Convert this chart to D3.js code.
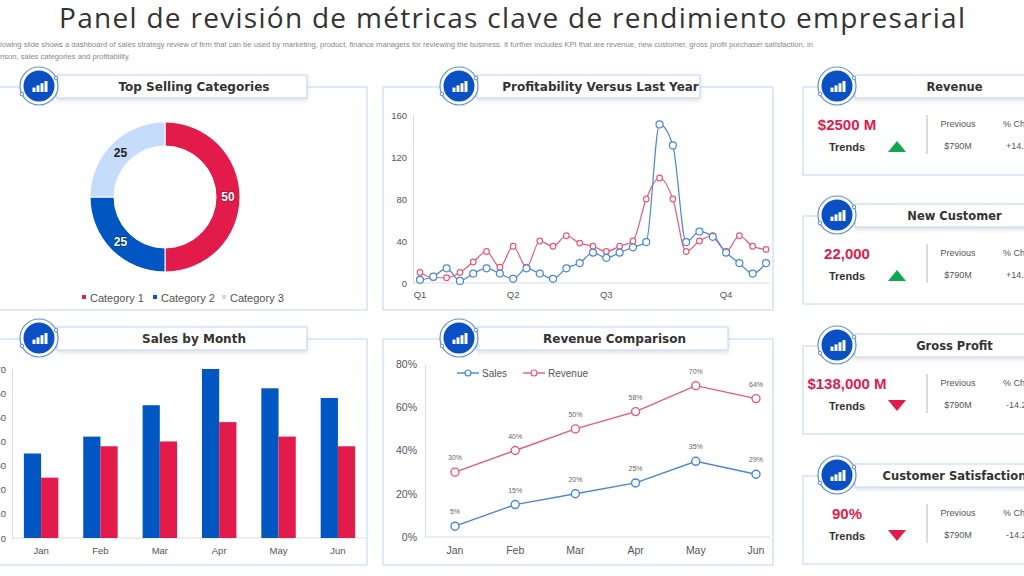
<!DOCTYPE html>
<html>
<head>
<meta charset="utf-8" />
<script src="https://d3js.org/d3.v7.min.js"></script>
<style>
  body { margin: 0; background: #fff; font-family: "Liberation Sans", Arial, sans-serif; }
  svg text { font-family: "Liberation Sans", Arial, sans-serif; }
</style>
</head>
<body>
<div id="chart"></div>
<script>
// ---- data ----
const categories = ["Category 1", "Category 2", "Category 3"];
const categoryValues = [50, 25, 25];

const quarterLabels = ["Q1", "Q2", "Q3", "Q4"];
const quarterIndex = [0, 7, 14, 23];
const profitBlue = [3, 6, 14, 2, 9, 14, 9, 4, 14, 9, 4, 14, 19, 29, 24, 29, 34, 39, 151, 131, 39, 49, 44, 29, 19, 9, 19];
const profitRed = [10, 5, 5, 10, 20, 30, 15, 35, 15, 40, 35, 45, 38, 35, 30, 35, 40, 80, 100, 80, 30, 40, 45, 30, 45, 35, 32];

const months = ["Jan", "Feb", "Mar", "Apr", "May", "Jun"];
const monthBlue = [35, 42, 55, 70, 62, 58];
const monthRed = [25, 38, 40, 48, 42, 38];
const monthTicks = [0, 10, 20, 30, 40, 50, 60, 70];

const compSales = [5, 15, 20, 25, 35, 29];
const compRevenue = [30, 40, 50, 58, 70, 64];

const kpis = [
  { title: "Revenue", value: "$2500 M", up: true, prev: "$790M", change: "+14.2%" },
  { title: "New  Customer", value: "22,000", up: true, prev: "$790M", change: "+14.2%" },
  { title: "Gross  Profit", value: "$138,000 M", up: false, prev: "$790M", change: "-14.2%" },
  { title: "Customer Satisfaction", value: "90%", up: false, prev: "$790M", change: "-14.2%" }
];

const RED = "#E31B4B", BLUE = "#0057C2", LIGHT = "#C5DCFB", FRAME = "#C9DDF7";
const LBLUE = "#4A86D9", LRED = "#E9587A";

const svg = d3.select("#chart").append("svg").attr("width", 1024).attr("height", 576);

// ---- header ----
svg.append("text").attr("x", 512).attr("y", 28).attr("text-anchor", "middle")
  .attr("font-size", 28).attr("fill", "#333").attr("textLength", 906)
  .style("font-family", "'Open Sans', sans-serif")
  .text("Panel de revisión de métricas clave de rendimiento empresarial");
svg.append("text").attr("x", 0).attr("y", 47).attr("font-size", 7.6).attr("fill", "#888")
  .text("lowing slide shows a dashboard of sales strategy review of firm that can be used by marketing,  product, finance managers for reviewing the business. It further includes KPI  that are revenue, new customer, gross profit purchaser satisfaction, in");
svg.append("text").attr("x", 0).attr("y", 59).attr("font-size", 7.6).attr("fill", "#888")
  .text("rison, sales categories and profitability.");

// ---- panel frames ----
function icon(cx, cy) {
  const g = svg.append("g");
  g.append("circle").attr("cx", cx).attr("cy", cy).attr("r", 19).attr("fill", "#fff")
    .attr("stroke", "#5B8FE0").attr("stroke-width", 1.2);
  g.append("circle").attr("cx", cx).attr("cy", cy).attr("r", 15.5).attr("fill", "#0B4FC4");
  g.append("circle").attr("cx", cx - 17).attr("cy", cy + 8).attr("r", 1.8).attr("fill", "#fff").attr("stroke", "#5B8FE0");
  g.append("circle").attr("cx", cx + 17).attr("cy", cy - 8).attr("r", 1.8).attr("fill", "#fff").attr("stroke", "#5B8FE0");
  [-5, -1, 3, 7].forEach((dx, i) => {
    g.append("rect").attr("x", cx + dx - 1.5).attr("y", cy + 6 - (i + 2) * 2.2)
      .attr("width", 3).attr("height", (i + 2) * 2.2).attr("fill", "#fff");
  });
}
function panel(x0, y0, x1, y1, tx0, tx1, title, fs) {
  svg.append("rect").attr("x", x0).attr("y", y0).attr("width", x1 - x0).attr("height", y1 - y0)
    .attr("fill", "#fff").attr("stroke", FRAME).attr("stroke-width", 1.2);
  svg.append("rect").attr("x", tx0).attr("y", y0 - 12).attr("width", tx1 - tx0).attr("height", 23)
    .attr("fill", "#fff").attr("stroke", FRAME).attr("stroke-width", 1.2)
    .style("filter", "drop-shadow(0px 2px 2px rgba(0,0,0,0.12))");
  svg.append("text").attr("x", (tx0 + tx1) / 2 + 12).attr("y", y0 + 4).attr("text-anchor", "middle")
    .attr("font-size", fs || 12).attr("font-weight", "bold").attr("fill", "#333")
    .style("font-family", "Verdana, 'DejaVu Sans', sans-serif").text(title);
  icon(tx0 - 18, y0 - 1);
}

panel(-5, 87, 367, 310, 57, 307, "Top Selling  Categories");
panel(383, 87, 773, 310, 477, 700, "Profitability  Versus Last Year");
panel(-5, 339, 367, 565, 57, 307, "Sales by Month");
panel(383, 339, 773, 565, 477, 728, "Revenue  Comparison");

// ---- donut ----
const pie = d3.pie().sort(null).value(d => d)(categoryValues);
const arc = d3.arc().innerRadius(51).outerRadius(75);
const dg = svg.append("g").attr("transform", "translate(165,197)");
const catColors = [RED, BLUE, LIGHT];
dg.selectAll("path").data(pie).join("path").attr("d", arc)
  .attr("fill", (d, i) => catColors[i]).attr("stroke", "#fff").attr("stroke-width", 1);
dg.selectAll("text").data(pie).join("text")
  .attr("transform", d => `translate(${arc.centroid(d)})`).attr("dy", "0.35em")
  .attr("text-anchor", "middle").attr("font-size", 12).attr("font-weight", "bold")
  .attr("fill", (d, i) => i === 2 ? "#222" : "#fff")
  .style("paint-order", "stroke").attr("stroke", (d, i) => i === 2 ? "none" : "rgba(0,0,0,0.35)").attr("stroke-width", 1.5)
  .text(d => d.data);
const lg = svg.append("g");
const legX = [82, 153, 222];
categories.forEach((c, i) => {
  lg.append("rect").attr("x", legX[i]).attr("y", 295).attr("width", 4).attr("height", 4).attr("fill", catColors[i]);
  lg.append("text").attr("x", legX[i] + 8).attr("y", 302).attr("font-size", 11).attr("fill", "#555").text(c);
});

// ---- profitability ----
const px = d3.scalePoint().domain(d3.range(profitBlue.length)).range([420, 766]);
const py = d3.scaleLinear().domain([0, 160]).range([283, 115]);
const pg = svg.append("g");
pg.append("g").attr("transform", "translate(413,0)")
  .call(d3.axisLeft(py).tickValues([0, 40, 80, 120, 160]).tickSize(0).tickPadding(6))
  .call(g => g.select(".domain").attr("stroke", "#ddd"))
  .call(g => g.selectAll("text").attr("font-size", 9.5).attr("fill", "#555"));
pg.append("line").attr("x1", 413).attr("x2", 770).attr("y1", 283).attr("y2", 283).attr("stroke", "#ddd");
quarterLabels.forEach((q, i) => {
  pg.append("text").attr("x", px(quarterIndex[i])).attr("y", 298).attr("text-anchor", "middle")
    .attr("font-size", 9.5).attr("fill", "#555").text(q);
});
function profitLine(data, color, r) {
  const line = d3.line().x((d, i) => px(i)).y(d => py(d)).curve(d3.curveMonotoneX);
  pg.append("path").attr("d", line(data)).attr("fill", "none").attr("stroke", color).attr("stroke-width", 1.2);
  pg.append("g").selectAll("circle").data(data).join("circle")
    .attr("cx", (d, i) => px(i)).attr("cy", d => py(d)).attr("r", r)
    .attr("fill", "#fff").attr("stroke", color).attr("stroke-width", 1.2);
}
profitLine(profitRed, LRED, 2.8);
profitLine(profitBlue, LBLUE, 3.5);

// ---- sales by month ----
const bx = d3.scaleBand().domain(months).range([12, 367]).paddingInner(0.42).paddingOuter(0.2);
const by = d3.scaleLinear().domain([0, 70]).range([538, 369]);
const bg = svg.append("g");
bg.append("g").attr("transform", "translate(12,0)")
  .call(d3.axisLeft(by).tickValues(monthTicks).tickSize(0).tickPadding(6))
  .call(g => g.select(".domain").attr("stroke", "#ddd"))
  .call(g => g.selectAll("text").attr("font-size", 9.5).attr("fill", "#555"));
bg.append("line").attr("x1", 12).attr("x2", 367).attr("y1", 538).attr("y2", 538).attr("stroke", "#ddd");
const bw = bx.bandwidth() / 2;
bg.selectAll(".b").data(monthBlue).join("rect")
  .attr("x", (d, i) => bx(months[i])).attr("y", d => by(d)).attr("width", bw).attr("height", d => 538 - by(d)).attr("fill", BLUE);
bg.selectAll(".r").data(monthRed).join("rect")
  .attr("x", (d, i) => bx(months[i]) + bw).attr("y", d => by(d)).attr("width", bw).attr("height", d => 538 - by(d)).attr("fill", RED);
months.forEach(m => {
  bg.append("text").attr("x", bx(m) + bw).attr("y", 554).attr("text-anchor", "middle")
    .attr("font-size", 9.5).attr("fill", "#555").text(m);
});

// ---- revenue comparison ----
const cx = d3.scalePoint().domain(months).range([455, 756]);
const cy = d3.scaleLinear().domain([0, 80]).range([537, 364]);
const cg = svg.append("g");
cg.append("g").attr("transform", "translate(425,0)")
  .call(d3.axisLeft(cy).tickValues([0, 20, 40, 60, 80]).tickFormat(d => d + "%").tickSize(0).tickPadding(8))
  .call(g => g.select(".domain").attr("stroke", "#ddd"))
  .call(g => g.selectAll("text").attr("font-size", 10.5).attr("fill", "#555"));
cg.append("line").attr("x1", 425).attr("x2", 770).attr("y1", 537).attr("y2", 537).attr("stroke", "#ddd");
months.forEach(m => {
  cg.append("text").attr("x", cx(m)).attr("y", 554).attr("text-anchor", "middle")
    .attr("font-size", 10.5).attr("fill", "#555").text(m);
});
function compLine(data, color) {
  const line = d3.line().x((d, i) => cx(months[i])).y(d => cy(d));
  cg.append("path").attr("d", line(data)).attr("fill", "none").attr("stroke", color).attr("stroke-width", 1.4);
  cg.append("g").selectAll("circle").data(data).join("circle")
    .attr("cx", (d, i) => cx(months[i])).attr("cy", d => cy(d)).attr("r", 4)
    .attr("fill", "#fff").attr("stroke", color).attr("stroke-width", 1.4);
  cg.append("g").selectAll("text").data(data).join("text")
    .attr("x", (d, i) => cx(months[i])).attr("y", d => cy(d) - 12).attr("text-anchor", "middle")
    .attr("font-size", 7).attr("fill", "#666").text(d => d + "%");
}
compLine(compSales, LBLUE);
compLine(compRevenue, LRED);
[["Sales", LBLUE, 457], ["Revenue", LRED, 523]].forEach(([name, color, x]) => {
  cg.append("line").attr("x1", x).attr("x2", x + 22).attr("y1", 373).attr("y2", 373).attr("stroke", color).attr("stroke-width", 1.4);
  cg.append("circle").attr("cx", x + 11).attr("cy", 373).attr("r", 3).attr("fill", "#fff").attr("stroke", color).attr("stroke-width", 1.2);
  cg.append("text").attr("x", x + 25).attr("y", 377).attr("font-size", 10).attr("fill", "#555").text(name);
});

// ---- KPI cards ----
const cardTops = [87, 216, 346, 476];
kpis.forEach((k, i) => {
  const t = cardTops[i];
  panel(803, t, 1030, t + 88, 855, 1030, k.title, 11.5);
  svg.append("text").attr("x", 847).attr("y", t + 43).attr("text-anchor", "middle")
    .attr("font-size", 15).attr("font-weight", "bold").attr("fill", RED).text(k.value);
  svg.append("text").attr("x", 847).attr("y", t + 64).attr("text-anchor", "middle")
    .attr("font-size", 11).attr("font-weight", "bold").attr("fill", "#333").text("Trends");
  const tx = 897, ty = t + 60;
  const tri = k.up ? `M${tx - 9},${ty + 5} L${tx + 9},${ty + 5} L${tx},${ty - 6} Z`
                   : `M${tx - 9},${ty - 6} L${tx + 9},${ty - 6} L${tx},${ty + 5} Z`;
  svg.append("path").attr("d", tri).attr("fill", k.up ? "#10A84E" : RED);
  svg.append("line").attr("x1", 927).attr("x2", 927).attr("y1", t + 28).attr("y2", t + 67).attr("stroke", "#bbb");
  svg.append("text").attr("x", 958).attr("y", t + 40).attr("text-anchor", "middle")
    .attr("font-size", 9).attr("fill", "#555").text("Previous");
  svg.append("text").attr("x", 958).attr("y", t + 62).attr("text-anchor", "middle")
    .attr("font-size", 9).attr("fill", "#555").text(k.prev);
  svg.append("text").attr("x", 1003).attr("y", t + 40).attr("font-size", 9).attr("fill", "#555").text("% Change");
  svg.append("text").attr("x", 1006).attr("y", t + 62).attr("font-size", 9).attr("fill", "#555").text(k.change);
});
</script>
</body>
</html>
